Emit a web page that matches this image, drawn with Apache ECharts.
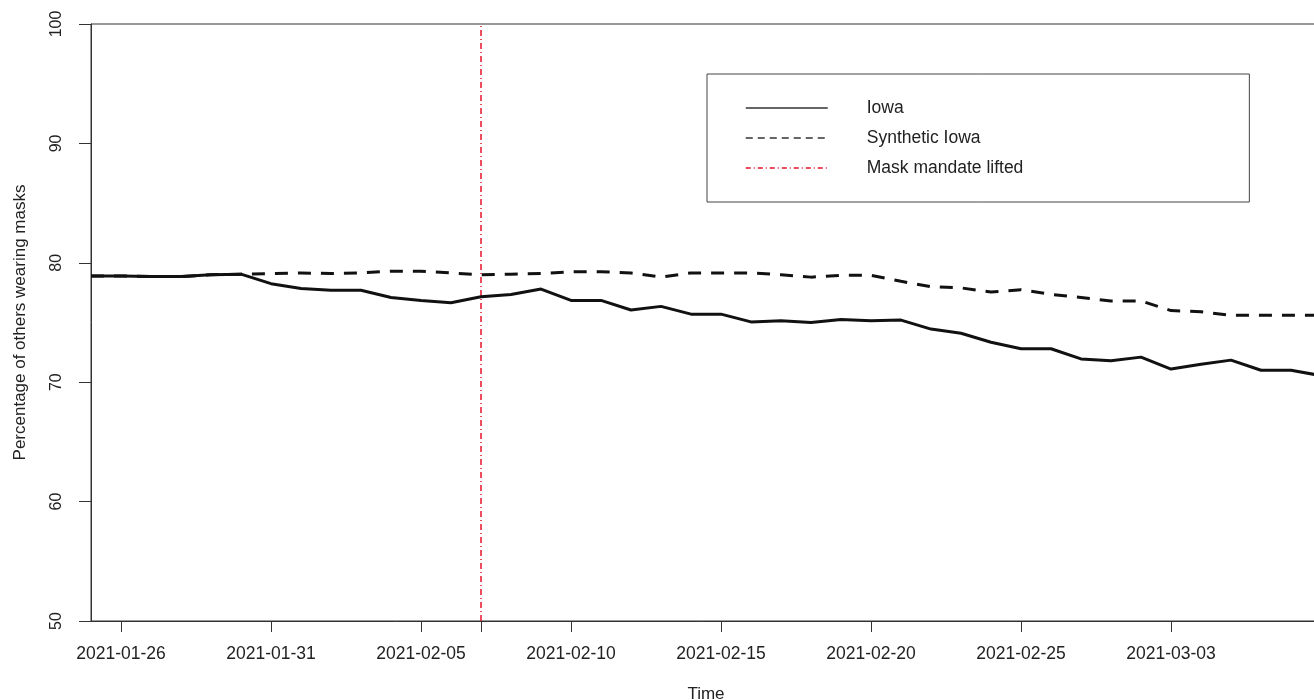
<!DOCTYPE html>
<html>
<head>
<meta charset="utf-8">
<script src="https://cdn.jsdelivr.net/npm/echarts@6/dist/echarts.min.js"></script>
<style>
  html, body { margin: 0; padding: 0; background: #fff; }
  #chart { width: 1314px; height: 700px; }
</style>
</head>
<body>
<div id="chart"></div>
<script>
// day index 0 = 2021-01-25, one value per day
const iowa = [
  78.9, 78.9, 78.85, 78.85, 79.0, 79.05, 78.25, 77.85, 77.7, 77.7,
  77.1, 76.85, 76.65, 77.15, 77.35, 77.8, 76.85, 76.85, 76.05, 76.35,
  75.7, 75.7, 75.05, 75.15, 75.0, 75.25, 75.15, 75.2, 74.45, 74.1,
  73.35, 72.8, 72.8, 71.95, 71.8, 72.1, 71.1, 71.5, 71.85, 71.0,
  71.0, 70.55
];
const synthetic = [
  78.9, 78.9, 78.85, 78.85, 79.0, 79.05, 79.1, 79.15, 79.1, 79.15,
  79.3, 79.3, 79.15, 79.0, 79.05, 79.1, 79.25, 79.25, 79.15, 78.8,
  79.15, 79.15, 79.15, 79.0, 78.8, 78.95, 78.95, 78.45, 78.0, 77.9,
  77.55, 77.75, 77.35, 77.1, 76.8, 76.8, 76.0, 75.9, 75.6, 75.6,
  75.6, 75.6
];
const tickDays = [1, 6, 11, 16, 21, 26, 31, 36];
const tickLabels = [
  "2021-01-26", "2021-01-31", "2021-02-05", "2021-02-10",
  "2021-02-15", "2021-02-20", "2021-02-25", "2021-03-03"
];
const mandateDay = 13;
const yRange = [50, 100];

const toPoints = (arr) => arr.map((v, i) => [i, v]);
const font = "Liberation Sans, Arial, sans-serif";
// hide the round symbol that echarts puts in the middle of line legend icons
const noDot = { color: "rgba(0,0,0,0)", borderWidth: 0 };

const chart = echarts.init(document.getElementById("chart"));
chart.setOption({
  animation: false,
  textStyle: { fontFamily: font },
  grid: {
    left: 91, top: 24, right: -7, bottom: 79,
    outerBoundsMode: "none",
    containLabel: false,
    show: true, borderColor: "#333", borderWidth: 1
  },
  legend: {
    orient: "vertical",
    left: 707, top: 74,
    itemWidth: 82, itemHeight: 20, itemGap: 10,
    padding: [24, 226, 24, 38],
    borderColor: "#444", borderWidth: 1,
    textStyle: { fontSize: 17.5, color: "#222", padding: [0, 0, 0, 34], lineHeight: 20 },
    data: [
      { name: "Iowa", itemStyle: noDot, lineStyle: { width: 1.5, color: "#333", type: "solid" } },
      { name: "Synthetic Iowa", itemStyle: noDot, lineStyle: { width: 1.5, color: "#333", type: [7, 5] } },
      { name: "Mask mandate lifted", itemStyle: noDot, lineStyle: { width: 1.5, color: "#e8102a", type: [5, 3, 1, 3] } }
    ]
  },
  xAxis: {
    type: "value",
    min: 0, max: 41,
    name: "Time",
    nameLocation: "middle",
    nameGap: 65,
    nameTextStyle: { fontSize: 17, color: "#222" },
    splitLine: { show: false },
    axisLine: { lineStyle: { color: "#333", width: 1 } },
    axisTick: {
      length: 11,
      lineStyle: { color: "#333" },
      customValues: tickDays.concat([mandateDay])
    },
    axisLabel: {
      fontSize: 17.5, color: "#222", margin: 24,
      customValues: tickDays,
      formatter: (v) => tickLabels[tickDays.indexOf(v)]
    }
  },
  yAxis: {
    type: "value",
    min: yRange[0], max: yRange[1], interval: 10,
    name: "Percentage of others wearing masks",
    nameLocation: "middle",
    nameGap: 62,
    nameTextStyle: { fontSize: 17, color: "#222" },
    splitLine: { show: false },
    axisLine: { show: true, lineStyle: { color: "#333", width: 1 } },
    axisTick: { show: true, length: 12, lineStyle: { color: "#333" } },
    axisLabel: { fontSize: 16, color: "#222", rotate: 90, margin: 26 }
  },
  series: [
    {
      name: "Synthetic Iowa",
      type: "line",
      symbol: "none",
      data: toPoints(synthetic),
      lineStyle: { color: "#111", width: 3, type: [13, 10] },
      itemStyle: { color: "#111" },
      z: 2
    },
    {
      name: "Iowa",
      type: "line",
      symbol: "none",
      data: toPoints(iowa),
      lineStyle: { color: "#111", width: 3 },
      itemStyle: { color: "#111" },
      z: 3
    },
    {
      name: "Mask mandate lifted",
      type: "line",
      symbol: "none",
      data: [[mandateDay, yRange[0]], [mandateDay, yRange[1]]],
      lineStyle: { color: "#e8102a", width: 1.5, type: [6, 3, 1, 3] },
      itemStyle: { color: "#e8102a" },
      z: 1
    }
  ]
});
</script>
</body>
</html>
